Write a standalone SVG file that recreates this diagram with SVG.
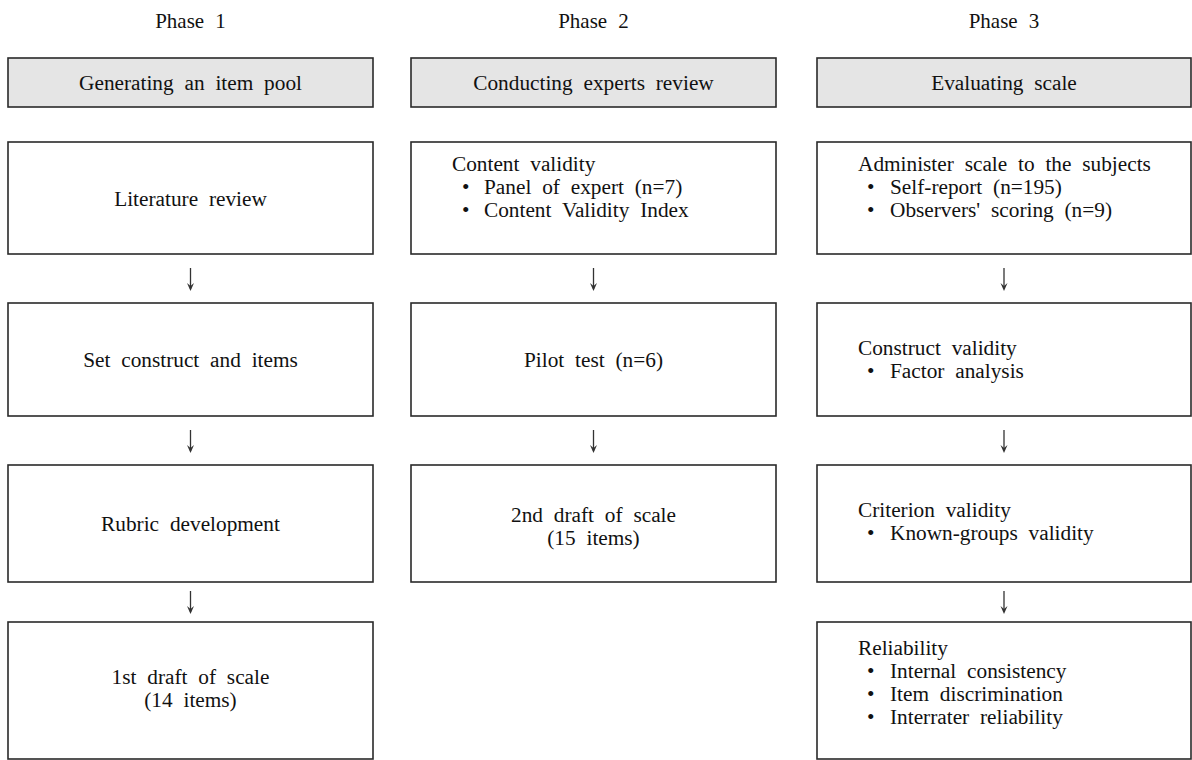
<svg xmlns="http://www.w3.org/2000/svg" width="1192" height="760" viewBox="0 0 1192 760">
<style>
text{font-family:"Liberation Serif","Times New Roman",serif;fill:#111;}
.ph{font-size:21px;text-anchor:middle;word-spacing:6px;}
.t{font-size:21.3px;word-spacing:5.5px;}
.c{text-anchor:middle;}
.hdr{fill:#e5e5e5;stroke:#2a2a2a;stroke-width:1.6;}
.box{fill:#fff;stroke:#2a2a2a;stroke-width:1.6;}
.arr{stroke:#333;stroke-width:1.3;fill:none;}
.ah{fill:#333;stroke:none;}
</style>
<rect width="1192" height="760" fill="#fff"/>

<g id="phase-labels">
<text class="ph" x="190.5" y="28">Phase 1</text>
<text class="ph" x="593.5" y="28">Phase 2</text>
<text class="ph" x="1004" y="28">Phase 3</text>
</g>

<g id="h1"><rect class="hdr" x="8" y="58" width="365" height="49"/><text class="t c" x="190.5" y="90">Generating an item pool</text></g>
<g id="h2"><rect class="hdr" x="411" y="58" width="365" height="49"/><text class="t c" x="593.5" y="90">Conducting experts review</text></g>
<g id="h3"><rect class="hdr" x="817" y="58" width="374" height="49"/><text class="t c" x="1004" y="90">Evaluating scale</text></g>

<g id="n1a"><rect class="box" x="8" y="142" width="365" height="112"/><text class="t c" x="190.5" y="206">Literature review</text></g>
<g id="n1b"><rect class="box" x="8" y="303" width="365" height="113"/><text class="t c" x="190.5" y="367">Set construct and items</text></g>
<g id="n1c"><rect class="box" x="8" y="465" width="365" height="117"/><text class="t c" x="190.5" y="531">Rubric development</text></g>
<g id="n1d"><rect class="box" x="8" y="622" width="365" height="137"/><text class="t c" x="190.5" y="684">1st draft of scale</text><text class="t c" x="190.5" y="707">(14 items)</text></g>

<g id="n2a"><rect class="box" x="411" y="142" width="365" height="112"/>
<text class="t" x="452" y="171">Content validity</text>
<text class="t" x="462" y="194">•</text><text class="t" x="484" y="194">Panel of expert (n=7)</text>
<text class="t" x="462" y="217">•</text><text class="t" x="484" y="217">Content Validity Index</text></g>
<g id="n2b"><rect class="box" x="411" y="303" width="365" height="113"/><text class="t c" x="593.5" y="367">Pilot test (n=6)</text></g>
<g id="n2c"><rect class="box" x="411" y="465" width="365" height="117"/><text class="t c" x="593.5" y="522">2nd draft of scale</text><text class="t c" x="593.5" y="545">(15 items)</text></g>

<g id="n3a"><rect class="box" x="817" y="142" width="374" height="112"/>
<text class="t" x="858" y="171">Administer scale to the subjects</text>
<text class="t" x="867" y="194">•</text><text class="t" x="890" y="194">Self-report (n=195)</text>
<text class="t" x="867" y="217">•</text><text class="t" x="890" y="217">Observers' scoring (n=9)</text></g>
<g id="n3b"><rect class="box" x="817" y="303" width="374" height="113"/>
<text class="t" x="858" y="355">Construct validity</text>
<text class="t" x="867" y="378">•</text><text class="t" x="890" y="378">Factor analysis</text></g>
<g id="n3c"><rect class="box" x="817" y="465" width="374" height="117"/>
<text class="t" x="858" y="517">Criterion validity</text>
<text class="t" x="867" y="540">•</text><text class="t" x="890" y="540">Known-groups validity</text></g>
<g id="n3d"><rect class="box" x="817" y="622" width="374" height="137"/>
<text class="t" x="858" y="655">Reliability</text>
<text class="t" x="867" y="678">•</text><text class="t" x="890" y="678">Internal consistency</text>
<text class="t" x="867" y="701">•</text><text class="t" x="890" y="701">Item discrimination</text>
<text class="t" x="867" y="724">•</text><text class="t" x="890" y="724">Interrater reliability</text></g>

<g id="connectors">
<g transform="translate(190.5,268)"><path class="arr" d="M0,0V21"/><path class="ah" d="M-3.5,15 L0,23 L3.5,15 L0,18 Z"/></g>
<g transform="translate(190.5,430)"><path class="arr" d="M0,0V21"/><path class="ah" d="M-3.5,15 L0,23 L3.5,15 L0,18 Z"/></g>
<g transform="translate(190.5,591)"><path class="arr" d="M0,0V21"/><path class="ah" d="M-3.5,15 L0,23 L3.5,15 L0,18 Z"/></g>
<g transform="translate(593.5,268)"><path class="arr" d="M0,0V21"/><path class="ah" d="M-3.5,15 L0,23 L3.5,15 L0,18 Z"/></g>
<g transform="translate(593.5,430)"><path class="arr" d="M0,0V21"/><path class="ah" d="M-3.5,15 L0,23 L3.5,15 L0,18 Z"/></g>
<g transform="translate(1004,268)"><path class="arr" d="M0,0V21"/><path class="ah" d="M-3.5,15 L0,23 L3.5,15 L0,18 Z"/></g>
<g transform="translate(1004,430)"><path class="arr" d="M0,0V21"/><path class="ah" d="M-3.5,15 L0,23 L3.5,15 L0,18 Z"/></g>
<g transform="translate(1004,591)"><path class="arr" d="M0,0V21"/><path class="ah" d="M-3.5,15 L0,23 L3.5,15 L0,18 Z"/></g>
</g>
</svg>
